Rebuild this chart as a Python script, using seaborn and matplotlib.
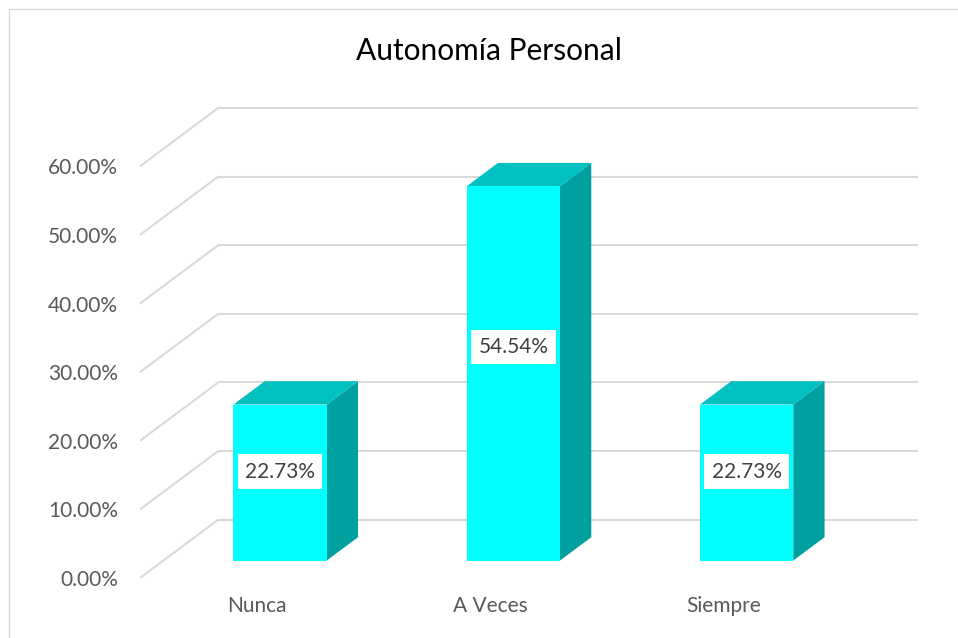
import matplotlib
matplotlib.use("Agg")
import matplotlib.pyplot as plt
import seaborn as sns
import pandas as pd
from matplotlib.patches import Polygon, Rectangle
from matplotlib.transforms import Affine2D

categories = ["Nunca", "A Veces", "Siempre"]
values = [22.73, 54.54, 22.73]
value_labels = ["22.73%", "54.54%", "22.73%"]
y_ticks = [0, 10, 20, 30, 40, 50, 60]
y_tick_labels = ["0.00%", "10.00%", "20.00%", "30.00%", "40.00%", "50.00%", "60.00%"]
title = "Autonomía Personal"

sns.set_theme(style="white")
plt.rcParams['font.family'] = ['Lato', 'DejaVu Sans']

fig = plt.figure(figsize=(9.58, 6.38), dpi=100)
fig.patch.set_facecolor("white")
ax = fig.add_axes([140 / 958, 60 / 638, 778 / 958, 470 / 638])
ax.set_facecolor("none")

# oblique depth offset (full depth of the plot box) in data units
DX, DY = 0.335, 8.49
F0, F1 = 0.3, 0.7
BW = 0.4
GRID = "#d9d9d9"

df = pd.DataFrame({"cat": categories, "val": values})
sns.barplot(data=df, x="cat", y="val", width=BW, color="#00FFFF",
            saturation=1, ax=ax, zorder=3, linewidth=0)

xmin, xmax = -0.5, len(categories) - 0.5
ax.set_xlim(xmin, xmax + DX)
ax.set_ylim(0, max(y_ticks) + DY)

# gridlines: left wall diagonals + back wall horizontals
for t in y_ticks:
    ax.plot([xmin, xmin + DX], [t, t + DY], color=GRID, lw=1.5, zorder=1,
            clip_on=False, solid_capstyle="butt")
    ax.plot([xmin + DX, xmax + DX], [t + DY, t + DY], color=GRID, lw=1.5,
            zorder=1, clip_on=False, solid_capstyle="butt")

ox, oy = F0 * DX, F0 * DY
ddx, ddy = (F1 - F0) * DX, (F1 - F0) * DY
for p, v, lab in zip(ax.patches, values, value_labels):
    p.set_transform(Affine2D().translate(ox, oy) + ax.transData)
    x0 = p.get_x() + ox
    w = p.get_width()
    h = p.get_height()
    y0 = oy
    side = Polygon([(x0 + w, y0), (x0 + w + ddx, y0 + ddy),
                    (x0 + w + ddx, y0 + h + ddy), (x0 + w, y0 + h)],
                   closed=True, facecolor="#00A0A0", edgecolor="none", zorder=2.5)
    top = Polygon([(x0, y0 + h), (x0 + w, y0 + h),
                   (x0 + w + ddx, y0 + h + ddy), (x0 + ddx, y0 + h + ddy)],
                  closed=True, facecolor="#00C0C0", edgecolor="none", zorder=2.5)
    ax.add_patch(side)
    ax.add_patch(top)
    ax.text(x0 + w / 2, y0 + v * 0.57, lab, ha="center", va="center",
            fontsize=15, color="#404040", zorder=5,
            bbox=dict(boxstyle="square,pad=0.35", facecolor="white", edgecolor="none"))

ax.set_yticks(y_ticks, y_tick_labels)
ax.set_xticks(range(len(categories)), categories)
ax.tick_params(axis="y", length=0, pad=15.8, labelsize=15, labelcolor="#595959")
ax.tick_params(axis="x", length=0, pad=13, labelsize=15, labelcolor="#595959")
ax.set_xlabel("")
ax.set_ylabel("")
for s in ax.spines.values():
    s.set_visible(False)
ax.grid(False)

fig.text(489 / 958, 1 - 51 / 638, title, ha="center", va="center",
         fontsize=21.5, color="black")

fig.add_artist(Rectangle((9 / 958, -0.1), 1.2, (638 - 9) / 638 + 0.1,
                         transform=fig.transFigure, fill=False,
                         edgecolor=GRID, lw=1))

fig.savefig("out.png", dpi=100)
